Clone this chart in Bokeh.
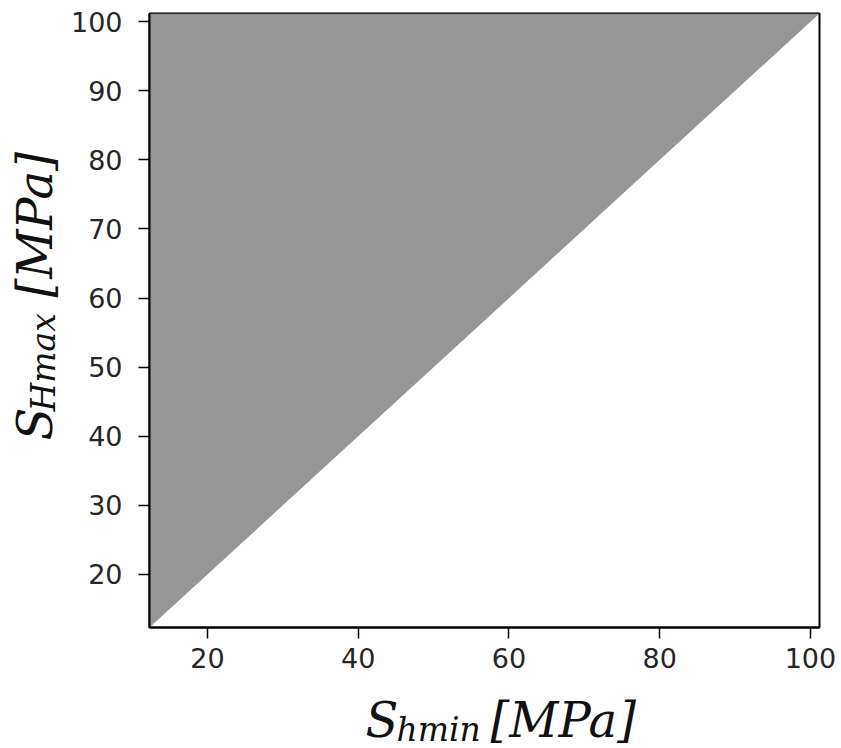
import math
from bokeh.plotting import figure
from bokeh.models import Label, Range1d, FixedTicker, ColumnDataSource
from bokeh.layouts import row, column
from bokeh.embed import file_html
from bokeh.resources import INLINE

# ---- data ----
axis_min = 12.3
axis_max = 101.2
shmin = [12.3, 101.2]            # S_hmin along the diagonal
shmax_lower = [12.3, 101.2]      # S_Hmax = S_hmin (lower bound of the region)
shmax_upper = [101.2, 101.2]     # upper bound of S_Hmax
x_ticks = [20, 40, 60, 80, 100]
y_ticks = [20, 30, 40, 50, 60, 70, 80, 90, 100]

W, H = 841, 748
LEFT_W = 63          # panel holding the rotated y label
BOTTOM_H = 60        # panel holding the x label
FRAME_LEFT, FRAME_TOP, FRAME_BOTTOM, FRAME_RIGHT = 149, 13, 627, 819

src = ColumnDataSource(dict(x=shmin, y1=shmax_lower, y2=shmax_upper))

p = figure(width=W - LEFT_W, height=H - BOTTOM_H, title=None,
           x_range=Range1d(axis_min, axis_max), y_range=Range1d(axis_min, axis_max),
           output_backend="svg", toolbar_location=None,
           min_border_left=FRAME_LEFT - LEFT_W, min_border_right=W - FRAME_RIGHT,
           min_border_top=FRAME_TOP, min_border_bottom=(H - BOTTOM_H) - FRAME_BOTTOM)
p.varea(x="x", y1="y1", y2="y2", source=src, fill_color="#969696", fill_alpha=1.0)

p.grid.visible = False
p.background_fill_color = "white"
p.border_fill_color = "white"
p.outline_line_color = "black"
p.outline_line_width = 2
p.outline_line_alpha = 1.0

p.xaxis.ticker = FixedTicker(ticks=x_ticks)
p.yaxis.ticker = FixedTicker(ticks=y_ticks)
for ax in (p.xaxis, p.yaxis):
    ax.axis_line_color = "black"
    ax.axis_line_width = 2
    ax.major_tick_line_color = "black"
    ax.major_tick_line_width = 1.5
    ax.major_tick_out = 11
    ax.major_tick_in = 0
    ax.minor_tick_line_color = None
    ax.major_label_text_font = "DejaVu Sans"
    ax.major_label_text_font_size = "27px"
    ax.major_label_text_color = "#262626"
p.xaxis.major_label_standoff = 9
p.yaxis.major_label_standoff = 16

common = dict(x_units="screen", y_units="screen", text_font="DejaVu Serif",
              text_font_style="italic", text_color="#111111",
              text_baseline="middle", text_align="left")


def label_fig(w, h, **kw):
    f = figure(width=w, height=h, title=None, output_backend="svg", toolbar_location=None,
               x_axis_type=None, y_axis_type=None, **kw)
    f.grid.visible = False
    f.outline_line_color = None
    f.background_fill_color = "white"
    f.border_fill_color = "white"
    return f


# y-axis label: S_Hmax[MPa], rotated; its frame spans the same rows as the plot frame
fy = label_fig(LEFT_W, H - BOTTOM_H, min_border_left=0, min_border_right=0,
               min_border_top=FRAME_TOP, min_border_bottom=(H - BOTTOM_H) - FRAME_BOTTOM)
ang = math.pi / 2
fy.add_layout(Label(x=34, y=187, angle=ang, text="S", text_font_size="48px", **common))
fy.add_layout(Label(x=43, y=216, angle=ang, text="Hmax", text_font_size="33px", **common))
fy.add_layout(Label(x=34, y=330, angle=ang, text="[MPa]", text_font_size="48px", **common))

# x-axis label: S_hmin[MPa]
fx = label_fig(W, BOTTOM_H, min_border=0)
fx.add_layout(Label(x=365, y=29, text="S", text_font_size="48px", **common))
fx.add_layout(Label(x=396, y=19, text="hmin", text_font_size="33px", **common))
fx.add_layout(Label(x=490, y=29, text="[MPa]", text_font_size="48px", **common))

layout = column(row(fy, p, spacing=0), fx, spacing=0)
open("out.html", "w").write(file_html(layout, INLINE))
